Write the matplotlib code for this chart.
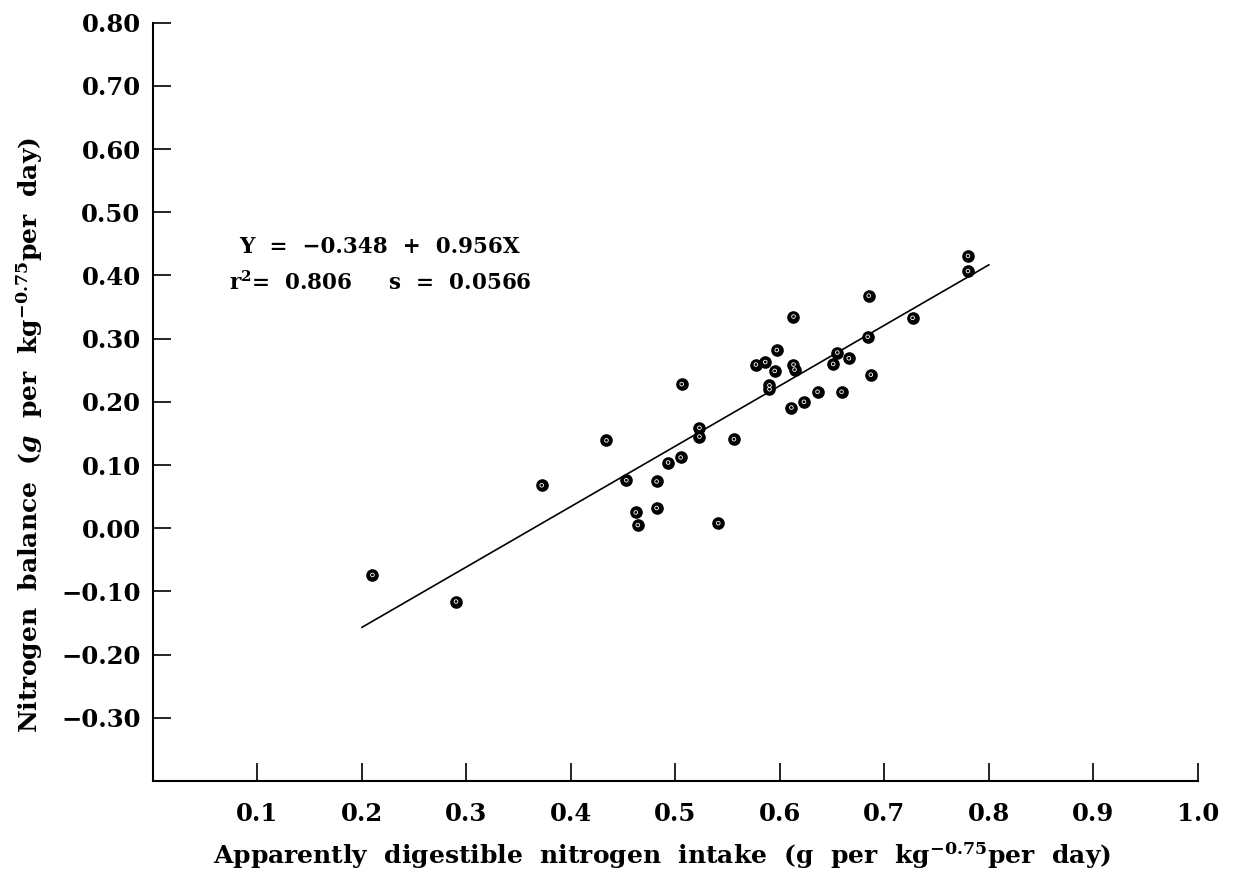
import matplotlib.pyplot as plt
import numpy as np

# Apparently digestible N intake vs N balance
x = [0.210, 0.290, 0.372, 0.434, 0.453, 0.462, 0.464, 0.482, 0.482, 0.493,
     0.505, 0.506, 0.523, 0.523, 0.556, 0.541, 0.577, 0.586, 0.595, 0.597,
     0.590, 0.590, 0.611, 0.613, 0.613, 0.614, 0.623, 0.636, 0.651, 0.655,
     0.659, 0.666, 0.684, 0.685, 0.687, 0.727, 0.780, 0.780]
y = [-0.074, -0.116, 0.068, 0.139, 0.076, 0.025, 0.005, 0.074, 0.032, 0.104,
     0.112, 0.228, 0.159, 0.145, 0.141, 0.008, 0.259, 0.263, 0.249, 0.282,
     0.226, 0.220, 0.191, 0.335, 0.259, 0.251, 0.200, 0.216, 0.260, 0.278,
     0.216, 0.269, 0.303, 0.368, 0.243, 0.333, 0.431, 0.407]

intercept = -0.348
slope = 0.956
r2 = 0.806
s = 0.0566
fit_range = [0.2, 0.8]

xticks = [0.1, 0.2, 0.3, 0.4, 0.5, 0.6, 0.7, 0.8, 0.9, 1.0]
yticks = [-0.3, -0.2, -0.1, 0.0, 0.1, 0.2, 0.3, 0.4, 0.5, 0.6, 0.7, 0.8]

plt.rcParams['font.family'] = ['DejaVu Serif']
plt.rcParams['font.weight'] = 'bold'
plt.rcParams['axes.labelweight'] = 'bold'
plt.rcParams['mathtext.fontset'] = 'dejavuserif'

fig = plt.figure(figsize=(12.4, 8.8), dpi=100)
ax = fig.add_axes([0.1234, 0.1125, 0.8426, 0.8617])

xf = np.array(fit_range)
ax.plot(xf, intercept + slope * xf, color='black', lw=1.2)
ax.scatter(x, y, s=65, color='black', zorder=3)
ax.scatter(x, y, s=7, facecolors='none', edgecolors='white', linewidths=0.6, zorder=4)

ax.set_xlim(0, 1.0)
ax.set_ylim(-0.4, 0.8)
ax.set_xticks(xticks)
ax.set_xticklabels([f'{v:.1f}' for v in xticks])
ax.set_yticks(yticks)
ax.set_yticklabels([f'{v:.2f}'.replace('-', '\u2212') for v in yticks])
ax.tick_params(axis='both', direction='in', length=13, width=1.2, labelsize=17.5)
ax.tick_params(axis='y', pad=9)
ax.tick_params(axis='x', pad=15)

for side in ['top', 'right']:
    ax.spines[side].set_visible(False)
for side in ['left', 'bottom']:
    ax.spines[side].set_linewidth(1.5)

ax.text(0.082, 0.445, 'Y  =  \u22120.348  +  0.956X', fontsize=15.5, va='center')
ax.text(0.073, 0.388, 'r$^\\mathbf{2}$=  %.3f     s  =  %.4f' % (r2, s), fontsize=15.5, va='center')

ax.set_xlabel('Apparently  digestible  nitrogen  intake  (g  per  kg$^{-0.75}$per  day)',
              fontsize=18, va='center')
ax.set_ylabel('Nitrogen  balance  ($g$  per  kg$^{-0.75}$per  day)', fontsize=18, va='center')
ax.xaxis.set_label_coords(0.487, -0.098)
ax.yaxis.set_label_coords(-0.118, 0.456)

fig.savefig('out.png', dpi=100)
